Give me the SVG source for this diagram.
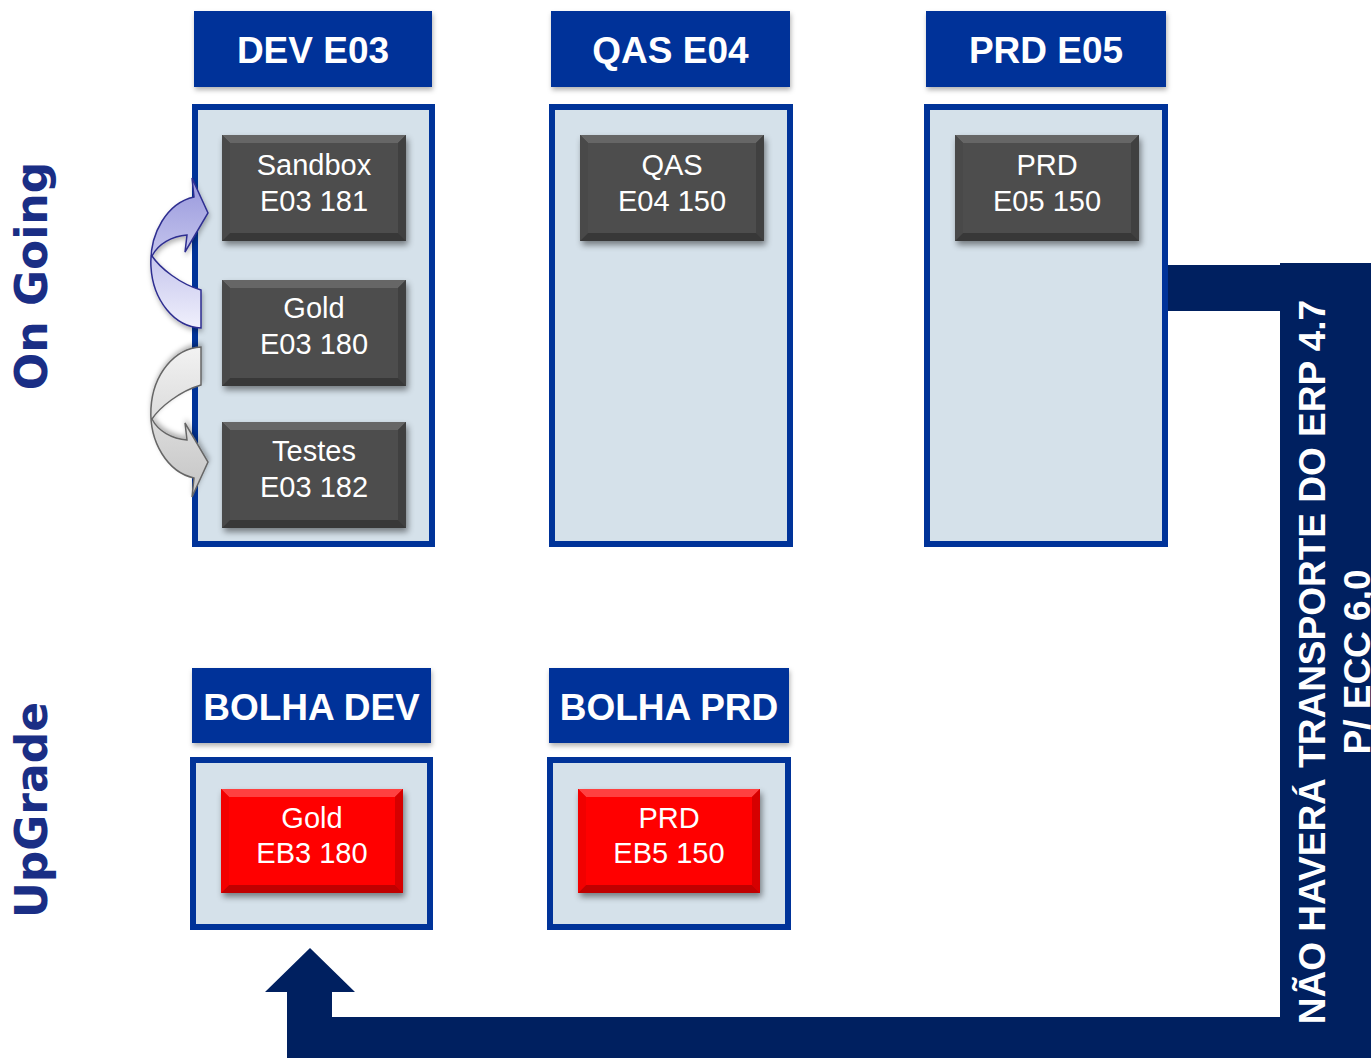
<svg xmlns="http://www.w3.org/2000/svg" xmlns:xlink="http://www.w3.org/1999/xlink" width="1371" height="1058" viewBox="0 0 1371 1058">
<style>
.hdr{fill:#003399;}
.hdrt{font-family:"Liberation Sans",Arial,sans-serif;font-weight:bold;font-size:37px;fill:#ffffff;text-anchor:middle;}
.cont{fill:#d5e1ea;stroke:#003399;stroke-width:6;}
.nt{font-family:"Liberation Sans",Arial,sans-serif;font-size:29px;fill:#ffffff;text-anchor:middle;}
.side{font-family:"DejaVu Sans",Verdana,sans-serif;font-weight:bold;font-size:44px;fill:#1a2e85;text-anchor:middle;}
.conn{fill:#002060;}
.bart{font-family:"Liberation Sans",Arial,sans-serif;font-weight:bold;font-size:37px;fill:#ffffff;text-anchor:middle;}
</style>
<defs>
<filter id="sh" x="-10%" y="-10%" width="125%" height="130%">
<feDropShadow dx="2" dy="4" stdDeviation="3" flood-color="#000" flood-opacity="0.45"/>
</filter>
<filter id="shl" x="-10%" y="-10%" width="125%" height="130%">
<feDropShadow dx="1" dy="3" stdDeviation="2.5" flood-color="#000" flood-opacity="0.3"/>
</filter>
<linearGradient id="gBlue" x1="0" y1="0" x2="0" y2="1">
<stop offset="0" stop-color="#9696dc"/>
<stop offset="1" stop-color="#f0f0fc"/>
</linearGradient>
<linearGradient id="gGray" x1="0" y1="0" x2="0" y2="1">
<stop offset="0" stop-color="#c4c4c4"/>
<stop offset="1" stop-color="#f2f2f2"/>
</linearGradient>
<g id="bevDark">
<rect x="0" y="0" width="184" height="106" fill="#434343"/>
<polygon points="0,0 184,0 176,8 8,8" fill="#666666"/>
<polygon points="0,106 184,106 176,98 8,98" fill="#383838"/>
<polygon points="0,0 8,8 8,98 0,106" fill="#494949"/>
<polygon points="184,0 176,8 176,98 184,106" fill="#404040"/>
<rect x="8" y="8" width="168" height="90" fill="#4d4d4d"/>
</g>
<g id="bevRed">
<rect x="0" y="0" width="182" height="104" fill="#e60000"/>
<polygon points="0,0 182,0 174,8 8,8" fill="#ff4040"/>
<polygon points="0,104 182,104 174,96 8,96" fill="#c00000"/>
<polygon points="0,0 8,8 8,96 0,104" fill="#f20000"/>
<polygon points="182,0 174,8 174,96 182,104" fill="#d60000"/>
<rect x="8" y="8" width="166" height="88" fill="#ff0000"/>
</g>
<path id="curv" d="M201,328 A52,66 0 0 1 194,197 L192,178 L208,213 L185,252 L187,235 C172,236 158,244 152,256 C160,268 180,284 201,290 Z"/>
</defs>

<rect x="0" y="0" width="1371" height="1058" fill="#ffffff"/>

<g id="label-ongoing"><text class="side" transform="translate(47,276) rotate(-90)">On Going</text></g>
<g id="label-upgrade"><text class="side" transform="translate(47,810) rotate(-90)">UpGrade</text></g>

<g id="dev-e03">
<rect class="hdr" x="194" y="11" width="238" height="76" filter="url(#shl)"/>
<text class="hdrt" x="313" y="63">DEV E03</text>
<rect class="cont" x="195" y="107" width="237" height="437"/>
</g>
<g id="qas-e04">
<rect class="hdr" x="551" y="11" width="239" height="76" filter="url(#shl)"/>
<text class="hdrt" x="670.5" y="63">QAS E04</text>
<rect class="cont" x="552" y="107" width="238" height="437"/>
</g>
<g id="prd-e05">
<rect class="hdr" x="926" y="11" width="240" height="76" filter="url(#shl)"/>
<text class="hdrt" x="1046" y="63">PRD E05</text>
<rect class="cont" x="927" y="107" width="238" height="437"/>
</g>

<g id="sandbox">
<use xlink:href="#bevDark" x="222" y="135" filter="url(#sh)"/>
<text class="nt" x="314" y="175">Sandbox</text>
<text class="nt" x="314" y="211">E03 181</text>
</g>
<g id="gold-e03">
<use xlink:href="#bevDark" x="222" y="280" filter="url(#sh)"/>
<text class="nt" x="314" y="318">Gold</text>
<text class="nt" x="314" y="354">E03 180</text>
</g>
<g id="testes">
<use xlink:href="#bevDark" x="222" y="422" filter="url(#sh)"/>
<text class="nt" x="314" y="461">Testes</text>
<text class="nt" x="314" y="497">E03 182</text>
</g>
<g id="qas-node">
<use xlink:href="#bevDark" x="580" y="135" filter="url(#sh)"/>
<text class="nt" x="672" y="175">QAS</text>
<text class="nt" x="672" y="211">E04 150</text>
</g>
<g id="prd-node">
<use xlink:href="#bevDark" x="955" y="135" filter="url(#sh)"/>
<text class="nt" x="1047" y="175">PRD</text>
<text class="nt" x="1047" y="211">E05 150</text>
</g>

<g id="bolha-dev">
<rect class="hdr" x="192" y="668" width="239" height="75" filter="url(#shl)"/>
<text class="hdrt" x="311.5" y="720">BOLHA DEV</text>
<rect class="cont" x="193" y="760" width="237" height="167"/>
</g>
<g id="bolha-prd">
<rect class="hdr" x="549" y="668" width="240" height="75" filter="url(#shl)"/>
<text class="hdrt" x="669" y="720">BOLHA PRD</text>
<rect class="cont" x="550" y="760" width="238" height="167"/>
</g>

<g id="gold-eb3">
<use xlink:href="#bevRed" x="221" y="789" filter="url(#sh)"/>
<text class="nt" x="312" y="828">Gold</text>
<text class="nt" x="312" y="863">EB3 180</text>
</g>
<g id="prd-eb5">
<use xlink:href="#bevRed" x="578" y="789" filter="url(#sh)"/>
<text class="nt" x="669" y="828">PRD</text>
<text class="nt" x="669" y="863">EB5 150</text>
</g>

<g id="connectors">
<path class="conn" d="M1168,265 H1280 V263 H1371 V1058 H287 V992 H265 L310,948 L355,992 H332 V1017 H1280 V311 H1168 Z"/>
<g id="arrow-gold-sandbox" filter="url(#shl)">
<use xlink:href="#curv" fill="url(#gBlue)" stroke="#2e2e90" stroke-width="1.5"/>
</g>
<g id="arrow-gold-testes" filter="url(#shl)" transform="translate(0,675) scale(1,-1)">
<use xlink:href="#curv" fill="url(#gGray)" stroke="#666666" stroke-width="1.5"/>
</g>
<text class="bart" transform="translate(1325,662) rotate(-90)">NÃO HAVERÁ TRANSPORTE DO ERP 4.7<tspan x="0" y="45">P/ ECC 6,0</tspan></text>
</g>
</svg>
